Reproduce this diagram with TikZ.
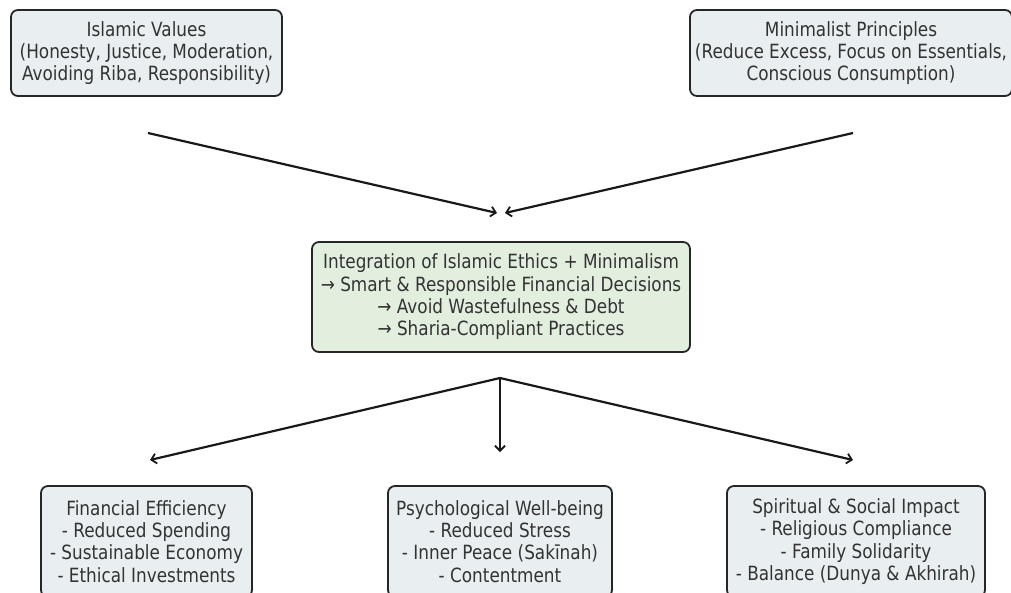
\documentclass[tikz,border=0pt]{standalone}
\usepackage{fontspec}
\setmainfont{DejaVu Sans}[FakeStretch=0.86]
\usetikzlibrary{arrows.meta}
\definecolor{boxgray}{HTML}{E9EEF0}
\definecolor{boxgreen}{HTML}{E2EFDF}
\definecolor{txt}{HTML}{333333}
\tikzset{
  box/.style={draw=black!85, line width=1.8pt, rounded corners=7pt, fill=boxgray,
    align=center, text=txt, font=\fontsize{19.6}{22.3}\selectfont, inner sep=0pt},
  midbox/.style={box, fill=boxgreen},
  conn/.style={line width=2.2pt, black!90, -{Straight Barb[length=5pt,width=10pt,line width=1.8pt]}}
}
\begin{document}
\begin{tikzpicture}[x=1pt,y=-1pt]
\useasboundingbox (0,0) rectangle (1011,592);
\clip (0,0) rectangle (1011,592);
\node[box, minimum width=271pt, minimum height=86pt] (iv) at (146.5,53)
  {Islamic Values\\(Honesty, Justice, Moderation,\\Avoiding Riba, Responsibility)};
\node[box, minimum width=322pt, minimum height=86pt] (mp) at (851,53)
  {Minimalist Principles\\(Reduce Excess, Focus on Essentials,\\Conscious Consumption)};
\node[midbox, minimum width=378pt, minimum height=110pt] (ie) at (501,297)
  {Integration of Islamic Ethics + Minimalism\\→ Smart \& Responsible Financial Decisions\\→ Avoid Wastefulness \& Debt\\→ Sharia-Compliant Practices};
\node[box, minimum width=211pt, minimum height=111pt] (fe) at (146.5,541.5)
  {Financial Efficiency\\- Reduced Spending\\- Sustainable Economy\\- Ethical Investments};
\node[box, minimum width=224pt, minimum height=111pt] (pw) at (500,541.5)
  {Psychological Well-being\\- Reduced Stress\\- Inner Peace (Sakīnah)\\- Contentment};
\node[box, minimum width=258pt, minimum height=111pt] (si) at (856,541.5)
  {Spiritual \& Social Impact\\- Religious Compliance\\- Family Solidarity\\- Balance (Dunya \& Akhirah)};
\coordinate (a1) at (148,133);
\coordinate (a1e) at (497,213);
\coordinate (a2) at (853,133);
\coordinate (a2e) at (505,213);
\coordinate (b0) at (500,378);
\coordinate (b1) at (150,460);
\coordinate (b2) at (500,452);
\coordinate (b3) at (853,460);
\draw[conn] (a1) -- (a1e);
\draw[conn] (a2) -- (a2e);
\draw[conn] (b0) -- (b1);
\draw[conn] (b0) -- (b2);
\draw[conn] (b0) -- (b3);
\end{tikzpicture}
\end{document}
